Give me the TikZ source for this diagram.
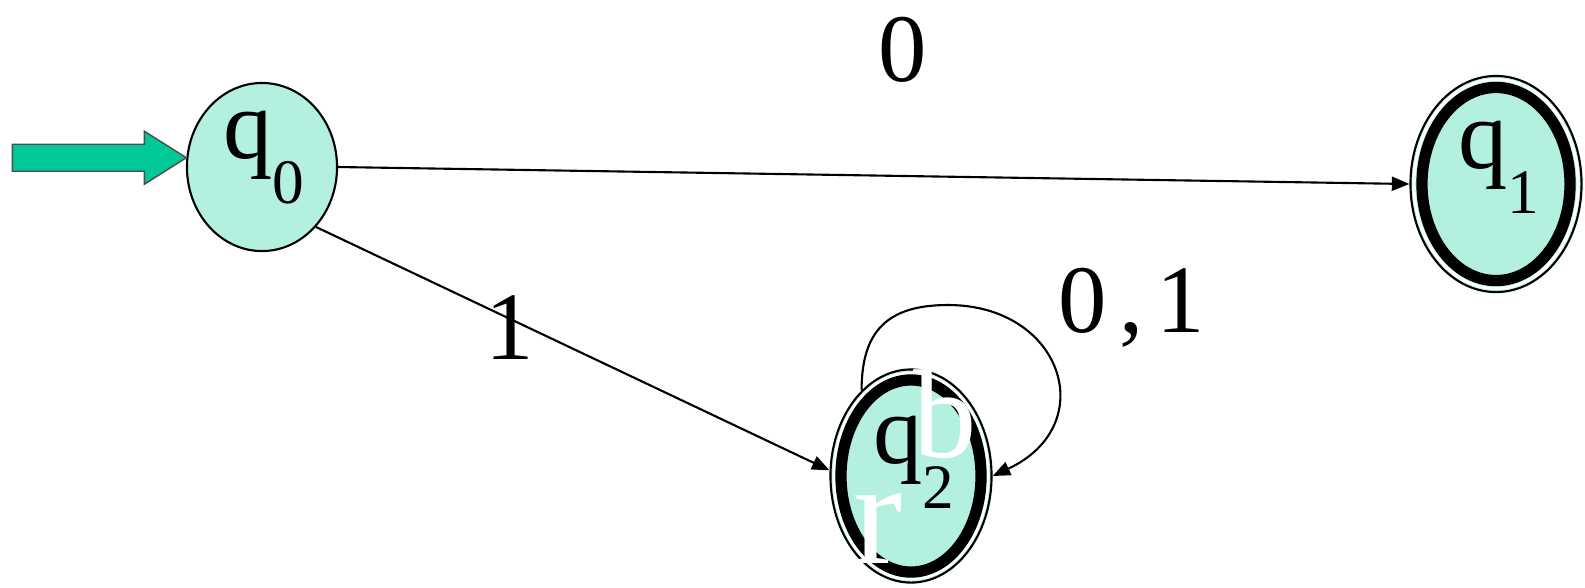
\documentclass[tikz,border=0pt]{standalone}
\usepackage{fontspec}
\setmainfont{Liberation Serif}
\usetikzlibrary{arrows.meta,shapes.geometric}
\definecolor{statefill}{RGB}{180,240,224}
\definecolor{startgreen}{RGB}{0,200,150}
\newcommand{\statename}[2]{{\fontsize{28}{30}\selectfont #1\raisebox{-0.45cm}{\fontsize{18}{20}\selectfont #2}}}

\begin{document}
\begin{tikzpicture}[x=0.01cm,y=0.01cm,>={Triangle[length=5pt,width=4pt]}]
  \useasboundingbox (0,0) rectangle (1585,-587);
  \tikzset{
    state/.style={ellipse,draw,line width=0.6pt,fill=statefill,inner sep=0pt},
    gap/.style={draw=white,line width=0.85pt},
    ring/.style={draw,line width=3.2pt},
    trans/.style={->,line width=0.6pt},
    lab/.style={inner sep=0pt,font=\fontsize{27.5}{30}\selectfont},
    ghost/.style={inner sep=0pt,text=white},
  }

  % Zustaende
  \node[state,minimum width=1.50cm,minimum height=1.68cm] (q0) at (262,-167) {};
  \node[state,minimum width=1.71cm,minimum height=2.16cm] (q1) at (1496,-184) {};
  \node[state,minimum width=1.61cm,minimum height=2.13cm] (q2) at (911,-476) {};

  % Endzustaende
  \draw[gap] (q1.center) ellipse [x radius=0.82cm, y radius=1.045cm];
  \draw[ring] (q1.center) ellipse [x radius=0.74cm, y radius=0.965cm];
  \draw[gap] (q2.center) ellipse [x radius=0.77cm, y radius=1.03cm];
  \draw[ring] (q2.center) ellipse [x radius=0.70cm, y radius=0.96cm];

  \node[anchor=base west,inner sep=0pt] (q0lab) at (223,-158) {\statename{q}{0}};
  \node[anchor=base west,inner sep=0pt] (q1lab) at (1458,-168) {\statename{q}{1}};
  \node[anchor=base west,inner sep=0pt] (q2lab) at (873,-463) {\statename{q}{2}};

  % Startpfeil
  \filldraw[fill=startgreen,draw=black!70,line width=0.4pt,shift={(q0.173)}]
    (-174,13.5) -- (-42,13.5) -- (-42,26.5) -- (0,0) -- (-42,-26.5)
    -- (-42,-13.5) -- (-174,-13.5) -- cycle;

  % Uebergaenge
  \draw[trans] (q0.east) -- (q1.west);
  \node[lab] (l01) at (903,-50) {0};
  \draw[trans] (q0.-48) -- (q2.176);
  \node[lab] (l02) at (510,-328) {1};
  \coordinate (looptop) at (948,-305);
  \draw[trans] (q2.120) .. controls +(90:60) and +(180:60) .. (looptop)
    .. controls +(0:115) and +(25:120) .. (q2.east);
  \node[lab,anchor=base west] (l22) at (1058,-332) {0\kern0.13em,\kern0.13em1};

  % weisse Reste
  \node[ghost,anchor=base west,font=\fontsize{36}{40}\selectfont] (wb) at (913,-457) {b};
  \node[ghost,anchor=base west,font=\fontsize{42}{46}\selectfont] (wr) at (853,-563) {r};
\end{tikzpicture}
\end{document}
